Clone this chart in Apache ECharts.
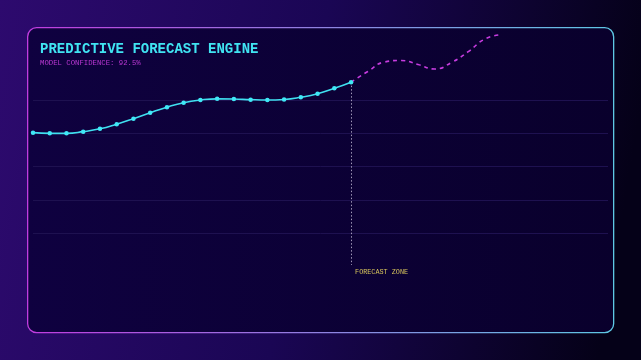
<!DOCTYPE html>
<html>
<head>
<meta charset="utf-8">
<script src="https://cdn.jsdelivr.net/npm/echarts@6/dist/echarts.min.js"></script>
<style>
html,body{margin:0;padding:0;width:641px;height:360px;overflow:hidden;background:#1a0650;}
#c{width:641px;height:360px;}
</style>
</head>
<body>
<div id="c"></div>
<script>
// ---- data ----
var titleText = 'PREDICTIVE FORECAST ENGINE';
var subtitleText = 'MODEL CONFIDENCE: 92.5%';
var zoneLabel = 'FORECAST ZONE';
var actualSteps = [0,1,2,3,4,5,6,7,8,9,10,11,12,13,14,15,16,17,18,19];
var actualValues = [80.3,79.9,79.9,80.9,82.6,85.4,88.7,92.3,95.6,98.3,99.9,100.6,100.5,100.1,99.9,100.2,101.5,103.6,106.9,110.6];
var forecastSteps = [19,20,21,22,23,24,25,26,27,28];
var forecastValues = [110.6,117.0,122.7,123.6,121.2,118.5,122.4,128.9,136.5,139.2];
var gridValues = [20,40,60,80,100];
var forecastStartStep = 19;

var chart = echarts.init(document.getElementById('c'), null, {renderer:'canvas'});

function pairs(xs, ys){ return xs.map(function(x,i){ return [x, ys[i]]; }); }

var option = {
  backgroundColor: new echarts.graphic.LinearGradient(0,0,1,0.3,[
    {offset:0,color:'#2d0a6e'},{offset:0.5,color:'#1a0654'},{offset:1,color:'#050118'}
  ]),
  animation:false,
  graphic:[{
    type:'rect', left:27, top:27, z:-1,
    shape:{width:586,height:305,r:9},
    style:{
      fill:new echarts.graphic.LinearGradient(0,0,1,0,[{offset:0,color:'#0f0140'},{offset:1,color:'#09002c'}]),
      stroke:new echarts.graphic.LinearGradient(0,0,1,0,[{offset:0,color:'#c23ce0'},{offset:1,color:'#5ec8e4'}]),
      lineWidth:1.3
    }
  }],
  title:[
    {text:titleText,left:40,top:42,padding:0,textStyle:{fontFamily:'Liberation Mono',fontWeight:'bold',fontSize:14,color:'#40e4f2'}},
    {text:subtitleText,left:40,top:60,padding:0,textStyle:{fontFamily:'Liberation Mono',fontWeight:'normal',fontSize:7.3,color:'#bc38d4'}}
  ],
  grid:{left:33,right:33,top:16.5,bottom:93.5},
  xAxis:{type:'value',min:0,max:34.35,show:false,splitLine:{show:false}},
  yAxis:{type:'value',min:0,max:150,show:false,splitLine:{show:false}},
  series:[
    {
      type:'line', name:'Actual', data:pairs(actualSteps, actualValues),
      smooth:true, symbol:'circle', symbolSize:4.5,
      lineStyle:{color:'#40e0f0',width:1.6},
      itemStyle:{color:'#40e8f6'},
      z:5,
      markLine:{
        silent:true, symbol:['none','none'],
        lineStyle:{color:'#1e1150',width:1,type:'solid'},
        label:{show:false},
        data:gridValues.map(function(v){ return {yAxis:v}; })
      }
    },
    {
      type:'line', name:'Forecast', data:pairs(forecastSteps, forecastValues),
      smooth:true, symbol:'none', clip:false,
      lineStyle:{color:'#c83ce0',width:1.6,type:[4,4]},
      z:4,
      markLine:{
        silent:true, symbol:['none','none'],
        lineStyle:{color:'#a098b8',width:1,type:[1.5,2]},
        label:{show:true,position:'end',formatter:zoneLabel,color:'#d8c45c',
          fontFamily:'Liberation Mono',fontSize:6.8,align:'left',verticalAlign:'top',distance:4,padding:[0,0,0,4]},
        data:[[{coord:[forecastStartStep, actualValues[actualValues.length-1]]},{coord:[forecastStartStep, 0.9]}]]
      }
    }
  ]
};
chart.setOption(option);
</script>
</body>
</html>
